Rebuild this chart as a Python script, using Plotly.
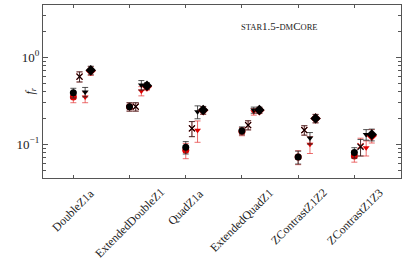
import plotly.graph_objects as go

categories = ["DoubleZ1a", "ExtendedDoubleZ1", "QuadZ1a", "ExtendedQuadZ1",
              "ZContrastZ1Z2", "ZContrastZ1Z3"]

black_circle = [0.39, 0.27, 0.092, 0.143, 0.071, 0.080]
black_circle_err = [0.05, 0.03, 0.015, 0.015, 0.012, 0.011]
red_circle = [0.35, 0.27, 0.085, 0.140, 0.071, 0.073]
red_circle_err = [0.05, 0.03, 0.017, 0.015, 0.013, 0.011]

black_x = [0.60, 0.27, 0.152, 0.166, 0.145, 0.093]
black_x_err = [0.08, 0.03, 0.03, 0.02, 0.018, 0.02]
red_x = [0.60, 0.27, 0.152, 0.166, 0.145, 0.095]
red_x_err = [0.08, 0.03, 0.03, 0.02, 0.018, 0.022]

black_tri = [0.40, 0.48, 0.236, 0.247, 0.118, 0.129]
black_tri_err = [0.05, 0.06, 0.04, 0.02, 0.018, 0.018]
red_tri = [0.35, 0.41, 0.145, 0.236, 0.100, 0.091]
red_tri_err = [0.05, 0.05, 0.04, 0.02, 0.022, 0.018]

black_dia = [0.71, 0.47, 0.247, 0.247, 0.198, 0.129]
black_dia_err = [0.08, 0.04, 0.025, 0.02, 0.022, 0.02]
red_dia = [0.70, 0.46, 0.245, 0.245, 0.198, 0.125]
red_dia_err = [0.08, 0.04, 0.025, 0.02, 0.022, 0.022]

offsets = [0.0, 0.11, 0.21, 0.31]
symbols = ["circle", "x-thin-open", "triangle-down", "diamond"]
sizes = [7, 6, 6, 8]

series = [
    (red_circle, red_circle_err, black_circle, black_circle_err),
    (red_x, red_x_err, black_x, black_x_err),
    (red_tri, red_tri_err, black_tri, black_tri_err),
    (red_dia, red_dia_err, black_dia, black_dia_err),
]

fig = go.Figure()
for k, (rv, re, bv, be) in enumerate(series):
    xs = [i + offsets[k] for i in range(len(categories))]
    for vals, errs, col, ecol in [(rv, re, "#e00000", "rgba(230,60,60,0.75)"),
                                  (bv, be, "black", "rgba(40,40,40,0.8)")]:
        mk = dict(symbol=symbols[k], size=sizes[k], color=col)
        if symbols[k] == "x-thin-open":
            mk["line"] = dict(color=col, width=1.1)
        else:
            mk["line"] = dict(width=0)
        fig.add_trace(go.Scatter(
            x=xs, y=vals, mode="markers", marker=mk,
            error_y=dict(type="data", array=errs, color=ecol,
                         thickness=1, width=3),
            showlegend=False, hoverinfo="skip"))

# centred, rotated category labels (matplotlib style)
for i, c in enumerate(categories):
    fig.add_annotation(
        x=i, y=0, xref="x", yref="paper", text=c, textangle=-45,
        showarrow=False, xanchor="center", yanchor="top", yshift=-5,
        font=dict(family="Liberation Serif", size=11.8, color="#222"))

fig.add_annotation(
    x=0.66, y=0.925, xref="paper", yref="paper", showarrow=False,
    text=("<span style='font-size:8.5px'>STAR</span>1.5-"
          "<span style='font-size:8.5px'>DM</span>C"
          "<span style='font-size:8.5px'>ORE</span>"),
    font=dict(family="Liberation Serif", size=11, color="#222"))

# y-axis title
fig.add_annotation(
    x=0, y=0.5, xref="paper", yref="paper", xshift=-23, showarrow=False,
    text="<i>f<sub>r</sub></i>", textangle=-90,
    font=dict(family="Liberation Serif", size=12, color="#222"))

fig.update_layout(
    width=407, height=260,
    margin=dict(l=43, r=6, t=5, b=82),
    paper_bgcolor="white", plot_bgcolor="white",
    font=dict(family="Liberation Serif", size=12, color="#222"),
    xaxis=dict(
        range=[-0.54, 5.83], tickvals=list(range(len(categories))),
        showticklabels=False, automargin=False,
        ticks="inside", ticklen=3, tickcolor="#555",
        showline=True, linecolor="#555", linewidth=1.2, mirror="ticks",
        showgrid=False, zeroline=False),
    yaxis=dict(
        type="log", range=[-1.39, 0.603], automargin=False,
        tickvals=[0.1, 1], ticktext=["10<sup>\u22121</sup>", "10<sup>0</sup>"],
        ticks="inside", ticklen=5, tickcolor="#555", tickfont=dict(size=13),
        minor=dict(ticks="inside", ticklen=2.5, tickcolor="#555",
                   tickvals=[0.05, 0.06, 0.07, 0.08, 0.09, 0.2, 0.3, 0.4, 0.5,
                             0.6, 0.7, 0.8, 0.9, 2, 3, 4]),
        showline=True, linecolor="#555", linewidth=1.2, mirror="ticks",
        showgrid=False, zeroline=False),
)

fig.write_html("out.html", config={"displayModeBar": False},
               post_script="document.body.style.margin='0';")
